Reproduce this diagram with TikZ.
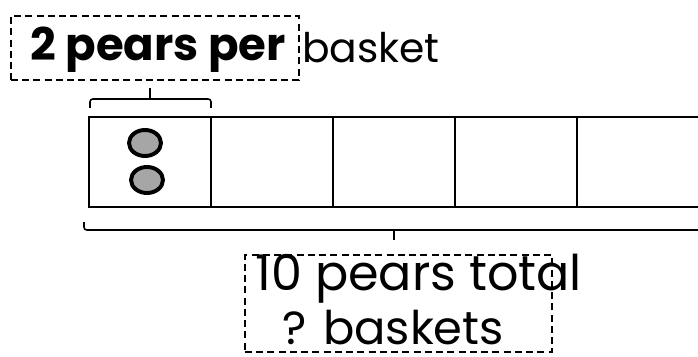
\documentclass[tikz,border=0pt]{standalone}
\usepackage{fontspec}
\setmainfont{Poppins}
\usetikzlibrary{shapes.geometric, calc, positioning}
\tikzset{
    basket_cell/.style={
        rectangle, draw=black, line width=1.4pt,
        minimum width=3.05cm, minimum height=2.25cm, inner sep=0pt, outer sep=0pt
    },
    pear_dot/.style={
        ellipse, draw=black, line width=2.8pt, fill=black!35,
        minimum width=0.8cm, minimum height=0.65cm, inner sep=0pt
    },
    note_box/.style={
        rectangle, draw=black, line width=1.1pt, dash pattern=on 5pt off 3pt, inner sep=0pt
    },
    hand_text/.style={
        anchor=base west, inner sep=0pt, font=\fontsize{35}{40}\selectfont
    },
    brace_line/.style={
        draw=black, line width=1.1pt, rounded corners=2pt
    }
}

\begin{document}
\begin{tikzpicture}[x=0.025cm, y=-0.025cm]

    \useasboundingbox (0,0) rectangle (698,356);
    \clip (0,0) rectangle (698,356);

    % baskets
    \foreach \i in {1,...,5}
        \node[basket_cell] (cell\i) at ({150+122*(\i-1)}, 162) {};
    \foreach \i in {1,...,4}
        \draw[line width=2.1pt] (cell\i.north east) -- (cell\i.south east);

    \node[pear_dot] (pear1) at (145, 143) {};
    \node[pear_dot] (pear2) at (147, 180) {};

    % brackets
    \draw[brace_line] ($(cell1.north west)+(1,-9)$) -- ++(0,-9) -- ($(cell1.north east)+(0,-18)$) -- ++(0,9);
    \draw[brace_line] ($(cell1.north)+(0,-18)$) -- ++(0,-11);

    \draw[brace_line] ($(cell1.south west)+(-5,15)$) -- ++(0,8) -- ($(cell5.south east)+(5,23)$) -- ++(0,-8);
    \draw[brace_line] ($(cell1.south west)!0.5!(cell5.south east)+(0,23)$) -- ++(0,10);

    % notes
    \node[note_box, minimum width=7.2cm, minimum height=1.6cm] (per_box) at (155, 48) {};
    \node[note_box, minimum width=7.675cm, minimum height=2.425cm] (total_box) at (398.5, 303.5) {};

    \node[hand_text, font=\bfseries\fontsize{32}{38}\selectfont] (per_text) at (30, 60) {2 pears per};
    \node[hand_text, font=\fontsize{29}{34}\selectfont] (basket_text) at (302, 62) {basket};
    \node[hand_text] (total_text) at (255, 290) {10 pears total};
    \node[hand_text, font=\fontsize{33}{38}\selectfont] (count_text) at (282, 344) {? baskets};

\end{tikzpicture}
\end{document}
